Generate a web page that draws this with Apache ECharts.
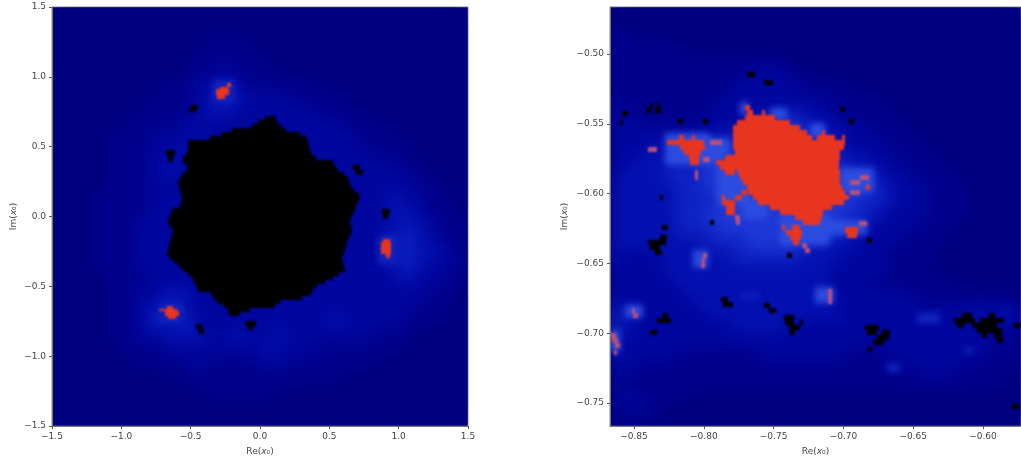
<!DOCTYPE html>
<html><head><meta charset="utf-8">
<script src="https://cdn.jsdelivr.net/npm/echarts@6/dist/echarts.min.js"></script>
<style>
html,body{margin:0;background:#fff}
#c{width:1021px;height:458px}
#c canvas{filter:blur(.5px)}
#c canvas[data-zr-dom-id="zr_1"]{filter:blur(8px);clip-path:path("M52 7H468V426H52Z M610 7H1021V426H610Z")}
#c canvas[data-zr-dom-id="zr_2"]{filter:blur(3px);clip-path:path("M52 7H468V426H52Z M610 7H1021V426H610Z")}
#c canvas[data-zr-dom-id="zr_3"]{filter:blur(.9px);clip-path:path("M52 7H468V426H52Z M610 7H1021V426H610Z")}
</style>
</head><body><div id="c"></div>
<script>
// Tick labels
const leftTicks = [-1.5,-1,-0.5,0,0.5,1,1.5];
const rightReTicks = [-0.85,-0.8,-0.75,-0.7,-0.65,-0.6];
const rightImTicks = [-0.75,-0.7,-0.65,-0.6,-0.55,-0.5];
// Escape-level coarse cells (0 = lowest). One string per Im row, one digit per Re cell.
const leftLevels = [
"000000000000000000000000000000",
"000000000000000000000000000000",
"000000000001110000000000000000",
"000000000011111000000000000000",
"000000000011211100000000000000",
"000000001122321111100000000000",
"000000011123432221111000000000",
"000000111123322222211100000000",
"000001111222222222222111000000",
"000011122232222222222211100000",
"000011122322222222222221110000",
"000011123222222222222222211000",
"000011122222222222222222221100",
"000111122222222222222222322110",
"000111122222222222222222332110",
"000111222222222222222222333211",
"000111222222222222222222343211",
"000111222222222222222222343321",
"000111222222222222222222343221",
"000011122222222222222222232211",
"000011223322222222222222222110",
"000011234322222222222222221110",
"000011243422222222223222211100",
"000011223332232232222221110000",
"000001112222222322211111100000",
"000000111121111221111110000000",
"000000000111111111111000000000",
"000000000001111100000000000000",
"000000000000000000000000000000",
"000000000000000000000000000000"];
const rightLevels = [
"0000000000000000000000000000000",
"0000000000000000000000000000000",
"1100000000000000000000000000000",
"1111100000000000000000000000000",
"1111111111111000000000000000000",
"1111111111222110000000000000000",
"1111111112222211110000000000000",
"2111111122222222111100000000000",
"2211111222334432211110000000000",
"2222222233445543322111000000000",
"2223334444555544322211100000000",
"2233344555555554433221110000000",
"2333444555555555544322111000000",
"3333344555555555555432211100000",
"3333344455555555554432211100000",
"3333344555555555544322211100000",
"3333344455555555543222111000000",
"3333333444555544332221110000000",
"3222333334444433322211110000000",
"2222333333333333222211100000000",
"2222233333333333222111111000000",
"2222223333333333222222111111100",
"4322222333333333322222222232321",
"4322222223333222222222222222221",
"3222222222222222222222222222111",
"3222211111122222211122222221111",
"2211111111111111111111222111111",
"1111111111111111111111111111000",
"1211110000000000000000000000000",
"1121000000000000000000000000000",
"0100000000000000000000000000000"];
// Left panel, main bounded set: [Im top, Re start, Re end]
const leftBlack = [[.72,.036,.115],[.691,-.015,.122],[.663,-.058,.151],[.634,-.202,.187],[.606,-.274,.288],[.577,-.361,.338],[.548,-.52,.346],[.52,-.52,.353],[.491,-.52,.36],[.462,-.534,.375],[.434,-.556,.403],[.405,-.556,.526],[.377,-.527,.54],[.348,-.527,.562],[.319,-.556,.605],[.291,-.577,.634],[.262,-.592,.641],[.233,-.584,.656],[.205,-.577,.677],[.176,-.57,.713],[.147,-.563,.721],[.119,-.57,.706],[.09,-.577,.692],[.062,-.635,.685],[.033,-.642,.67],[.004,-.657,.656],[-.025,-.664,.649],[-.053,-.649,.656],[-.082,-.628,.663],[-.11,-.635,.656],[-.139,-.642,.641],[-.168,-.649,.627],[-.196,-.657,.62],[-.225,-.664,.612],[-.254,-.671,.605],[-.282,-.649,.591],[-.311,-.62,.598],[-.339,-.584,.605],[-.368,-.556,.612],[-.397,-.52,.569],[-.425,-.491,.526],[-.454,-.476,.468],[-.483,-.462,.411],[-.511,-.447,.382],[-.54,-.354,.367],[-.569,-.332,.302],[-.597,-.31,.144],[-.626,-.26,.108],[-.654,-.231,-.07],[-.683,-.224,-.145]];
// Patches: [Im top, Im bottom, Re start, Re end]
const leftBlackSmall = [[.797,.771,-.50,-.45],[.771,.745,-.51,-.46],[.475,.44,-.68,-.61],[.44,.39,-.66,-.63],[.367,.33,.67,.72],[.33,.295,.69,.74],[.056,.02,.88,.94],[.02,-.015,.89,.92],[-.77,-.805,-.465,-.42],[-.805,-.84,-.44,-.405],[-.75,-.785,-.10,-.03],[-.785,-.815,-.09,-.05]];
const leftRed = [[.953,.929,-.24,-.21],[.929,.91,-.29,-.23],[.91,.871,-.32,-.22],[.871,.843,-.31,-.25],[-.159,-.183,.89,.935],[-.183,-.266,.875,.945],[-.266,-.30,.906,.935],[-.644,-.66,-.674,-.625],[-.66,-.677,-.726,-.60],[-.677,-.715,-.685,-.587],[-.715,-.735,-.66,-.606]];
const leftHalo = [[.977,.821,-.34,-.19],[-.135,-.338,.85,.98],[-.625,-.756,-.72,-.565]];
// Right panel: [Im top, Re start, Re end]
const rightRed = [
[-.5365,-.7704,-.7669],[-.5401,-.7692,-.7645],[-.5401,-.7585,-.7561],[-.5436,-.7704,-.7489],[-.5472,-.7764,-.7382],[-.5508,-.7788,-.731],[-.5544,-.7793,-.7262],[-.5544,-.7155,-.7131],[-.558,-.7793,-.7226],[-.558,-.719,-.706],[-.558,-.7011,-.6987],[-.5616,-.7793,-.6987],[-.5652,-.7788,-.6995],[-.5687,-.7776,-.7023],[-.5723,-.7848,-.7028],[-.5759,-.7912,-.7035],[-.5795,-.7884,-.7035],[-.5831,-.7848,-.7776],[-.5831,-.7752,-.7028],[-.5867,-.774,-.7028],[-.5902,-.7716,-.7023],[-.5938,-.7692,-.7011],[-.5974,-.768,-.6987],[-.601,-.7645,-.6963],[-.6046,-.7609,-.6999],[-.6082,-.7525,-.7083],[-.6117,-.7453,-.7143],[-.6153,-.7346,-.7155],[-.6189,-.7286,-.7167],
[-.5974,-.7728,-.7692],[-.601,-.7872,-.7848],[-.601,-.7776,-.7728],[-.6046,-.7872,-.7776],[-.6082,-.7841,-.7776],[-.6117,-.7841,-.7776],
[-.6225,-.7441,-.7418],[-.6225,-.737,-.731],[-.6261,-.741,-.7298],[-.6297,-.7386,-.7305],[-.6333,-.7358,-.7315],
[-.6241,-.6987,-.6892],[-.6277,-.6975,-.6904],[-.5938,-.6837,-.6808],
[-.558,-.818,-.8144],[-.558,-.8084,-.806],[-.5616,-.8264,-.8001],[-.5652,-.8168,-.7989],[-.5688,-.8144,-.8017],[-.5724,-.8104,-.8032],[-.576,-.8096,-.8037]];
const rightPink = [[-.5665,-.8397,-.8337],[-.5617,-.7955,-.7871],[-.5736,-.8003,-.7955],[-.5832,-.8063,-.8039],[-.5868,-.8063,-.8039],[-.5868,-.6879,-.682],[-.5904,-.6951,-.6879],[-.5975,-.6951,-.6879],[-.6153,-.7776,-.774],[-.6189,-.7768,-.7744],[-.6356,-.7298,-.7262],[-.6392,-.7274,-.7238],[-.6196,-.6891,-.6832],[-.6428,-.8005,-.798],[-.6464,-.8015,-.799],[-.65,-.802,-.7995],[-.6684,-.7107,-.7083],[-.672,-.7107,-.7083],[-.6756,-.7107,-.7083],[-.6822,-.8517,-.849],[-.6858,-.8505,-.8469],[-.7001,-.8672,-.863],[-.7037,-.8655,-.8615],[-.7073,-.8635,-.86],[-.7121,-.8643,-.862]];
const rightBlack = [[-.6296,-.8314,-.8266],[-.6332,-.8397,-.827],[-.6368,-.8385,-.8314],[-.6404,-.8349,-.8302],[-.6225,-.8302,-.8254],[-.6189,-.7955,-.7926],[-.6739,-.7879,-.7824],[-.6779,-.7859,-.7792],[-.6786,-.7568,-.7525],[-.6822,-.753,-.7484],[-.687,-.7424,-.7357],[-.6906,-.7417,-.7352],[-.6906,-.731,-.7286],[-.6942,-.7393,-.7314],[-.6978,-.7381,-.7346],[-.6858,-.8294,-.8254],[-.6894,-.8333,-.8237],[-.6978,-.8385,-.8337],[-.6942,-.6844,-.6748],[-.6978,-.6832,-.676],[-.6978,-.6724,-.6664],[-.7013,-.676,-.667],[-.7049,-.6789,-.6712],[-.7097,-.6827,-.6796],[-.6858,-.6151,-.6079],[-.6858,-.5959,-.5912],[-.6894,-.621,-.6055],[-.6894,-.6019,-.5852],[-.693,-.6186,-.6139],[-.693,-.6079,-.59],[-.693,-.578,-.572],[-.6966,-.6043,-.5864],[-.7002,-.6007,-.5971],[-.7002,-.5923,-.5864],[-.7037,-.59,-.5857],[-.751,-.5792,-.5744],[-.6428,-.7405,-.7369],[-.6315,-.6832,-.6796],[-.5409,-.8588,-.8541],[-.5474,-.86,-.8576],[-.5354,-.8385,-.8361],[-.5354,-.8337,-.8314],[-.539,-.8414,-.838],[-.539,-.8349,-.8309],[-.5127,-.7692,-.7632],[-.5187,-.7568,-.7501],[-.6011,-.8314,-.829],[-.5462,-.6963,-.6927],[-.538,-.7023,-.6987],[-.5462,-.8182,-.8146],[-.5462,-.8003,-.7967]];
// Right panel patches: [Im top, Im bottom, Re start, Re end]
const rightHalo = [[-.539,-.5474,-.7525,-.7405],[-.5342,-.5438,-.774,-.7687],[-.5497,-.5605,-.7238,-.7131],[-.5605,-.5736,-.7955,-.7812],[-.5713,-.5784,-.7991,-.7859],[-.5569,-.5796,-.8278,-.7955],[-.5796,-.6083,-.7907,-.7668],[-.6035,-.6179,-.7716,-.7549],[-.582,-.5987,-.7023,-.678],[-.6153,-.6368,-.7453,-.7095],[-.6189,-.6296,-.7238,-.6832],[-.6404,-.6535,-.8075,-.7967],[-.6667,-.6786,-.7202,-.7071],[-.6798,-.6894,-.8564,-.8433],[-.6978,-.7133,-.8672,-.86]];
const rightGlow = [[-.6715,-.6751,-.7728,-.7608],[-.6858,-.693,-.6473,-.6306],[-.7109,-.7145,-.6139,-.6067],[-.7217,-.7276,-.6688,-.6593]];

const levelColors = ['#000080','#00008c','#00069e','#0410b0','#0e22c4','#1c38d6'];
const HALO='#2c4ce0', GLOW='#1224be', PINK='#b8507c', RED='#e8351f', BLACK='#000000';

function levelRects(rows, re0, imTop, step){
  const out=[];
  rows.forEach((s,r)=>{ for(let c=0;c<s.length;c++){
    out.push([re0+c*step, re0+(c+1)*step, imTop-r*step, imTop-(r+1)*step, levelColors[+s[c]]]);
  }});
  return out;
}
const rowRects=(rows,h,col)=>rows.map(a=>[a[1],a[2],a[0],a[0]-h,col]);
const patchRects=(rows,col)=>rows.map(a=>[a[2],a[3],a[0],a[1],col]);

const seriesData=[
  levelRects(leftLevels,-1.5,1.5,.1),
  patchRects(leftHalo,GLOW),
  [...rowRects(leftBlack,.031,BLACK),...patchRects(leftBlackSmall,BLACK),...patchRects(leftRed,RED)],
  levelRects(rightLevels,-.87,-.46,.01),
  [...patchRects(rightGlow,GLOW),...patchRects(rightHalo,HALO)],
  [...rowRects(rightPink,.0036,PINK),...rowRects(rightRed,.0038,RED),...rowRects(rightBlack,.0036,BLACK)]
];

function renderCell(params,api){
  const a=api.coord([api.value(0),api.value(2)]), b=api.coord([api.value(1),api.value(3)]);
  const x=Math.round(a[0]), y=Math.round(a[1]);
  const cs=params.coordSys;
  const shape=echarts.graphic.clipRectByRect({x,y,width:Math.round(b[0])-x,height:Math.round(b[1])-y},
    {x:cs.x,y:cs.y,width:cs.width,height:cs.height});
  if(!shape) return null;
  return {type:'rect',shape,style:{fill:seriesData[params.seriesIndex][params.dataIndex][4]}};
}

const tc='#444', fs=9;
const nameStyle={fontFamily:'DejaVu Sans',fontSize:fs,color:tc,rich:{i:{fontStyle:'italic',fontFamily:'DejaVu Sans',fontSize:fs,color:tc}}};
function axis(idx,min,max,ticks,dec,name,gap){return {type:'value',gridIndex:idx,min,max,name,nameLocation:'middle',nameGap:gap,zlevel:4,
  nameTextStyle:nameStyle,splitLine:{show:false},axisLine:{show:true,onZero:false,lineStyle:{color:'#777',width:1}},
  axisTick:{length:3,lineStyle:{color:'#555'},customValues:ticks},
  axisLabel:{customValues:ticks,margin:6,fontFamily:'DejaVu Sans',fontSize:fs,color:tc,formatter:v=>v.toFixed(dec).replace('-','−'),hideOverlap:false}};}

const mk=(p,z)=>({type:'custom',xAxisIndex:p,yAxisIndex:p,zlevel:z,renderItem:renderCell,silent:true,progressive:0,animation:false,clip:true});
const chart=echarts.init(document.getElementById('c'),null,{renderer:'canvas'});
chart.setOption({
  animation:false,
  grid:[{left:52,top:7,width:416,height:419,outerBoundsMode:'none',show:true,backgroundColor:'#000080',borderColor:'#888',borderWidth:1},
        {left:610,top:7,width:411,height:419,outerBoundsMode:'none',show:true,backgroundColor:'#000080',borderColor:'#888',borderWidth:1}],
  xAxis:[axis(0,-1.5,1.5,leftTicks,1,'Re({i|x}₀)',21),axis(1,-.8672,-.5728,rightReTicks,2,'Re({i|x}₀)',21)],
  yAxis:[axis(0,-1.5,1.5,leftTicks,1,'Im({i|x}₀)',34),axis(1,-.7665,-.4663,rightImTicks,2,'Im({i|x}₀)',41)],
  series:[
    {...mk(0,1),data:seriesData[0]},{...mk(0,2),data:seriesData[1]},{...mk(0,3),data:seriesData[2]},
    {...mk(1,1),data:seriesData[3]},{...mk(1,2),data:seriesData[4]},{...mk(1,3),data:seriesData[5]}
  ]
});
</script></body></html>
